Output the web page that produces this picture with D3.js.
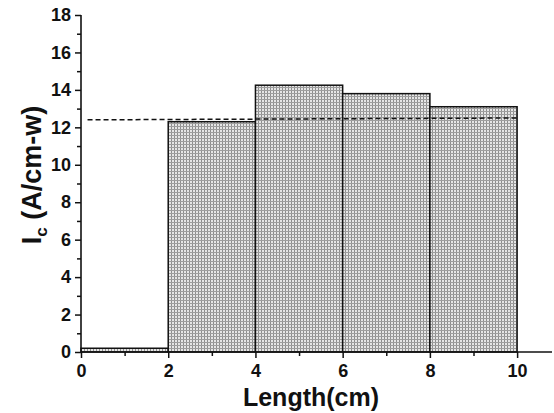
<!DOCTYPE html>
<html><head><meta charset="utf-8">
<script src="https://cdn.jsdelivr.net/npm/d3@7"></script>
<style>body{margin:0;background:#fff}svg{display:block}text{font-family:"Liberation Sans",Arial,sans-serif;font-weight:bold}</style>
</head><body><svg id="c" width="554" height="413"></svg>
<script>
const binStarts = [0, 2, 4, 6, 8];
const binEnds = [2, 4, 6, 8, 10];
const icValues = [0.2, 12.3, 14.25, 13.8, 13.1];
const avgLineX = [0.15, 10];
const avgLineY = [12.4, 12.5];
const xTicks = [0, 2, 4, 6, 8, 10];
const yTicks = [0, 2, 4, 6, 8, 10, 12, 14, 16, 18];

const svg = d3.select("#c");
const x = d3.scaleLinear().domain([0, 10.8]).range([81, 552]);
const y = d3.scaleLinear().domain([0, 18]).range([352, 15]);

const defs = svg.append("defs");
const pat = defs.append("pattern").attr("id","dots").attr("patternUnits","userSpaceOnUse").attr("width",3).attr("height",3);
pat.append("rect").attr("width",3).attr("height",3).attr("fill","#e6e6e6");
pat.append("rect").attr("width",1).attr("height",3).attr("fill","#8e8e8e");
pat.append("rect").attr("width",3).attr("height",1).attr("fill","#9e9e9e");

const bars = binStarts.map((s,i)=>({s, e: binEnds[i], v: icValues[i]}));
svg.append("g").selectAll("rect").data(bars).join("rect")
  .attr("x", d=>x(d.s)).attr("width", d=>x(d.e)-x(d.s))
  .attr("y", d=>y(d.v)).attr("height", d=>y(0)-y(d.v))
  .attr("fill","url(#dots)").attr("stroke","#111").attr("stroke-width",1.5);

svg.append("line")
  .attr("x1", x(avgLineX[0])).attr("x2", x(avgLineX[1]))
  .attr("y1", y(avgLineY[0])).attr("y2", y(avgLineY[1]))
  .attr("stroke","#111").attr("stroke-width",1.5).attr("stroke-dasharray","5,3");

// axes
const xMinor = d3.range(1, 11, 2);
const yMinor = d3.range(1, 18, 2);
const xa = svg.append("g").attr("transform",`translate(0,${y(0)})`)
  .call(d3.axisBottom(x).tickValues(xTicks).tickSize(6).tickPadding(6).tickFormat(d3.format("d")));
const xm = svg.append("g").attr("transform",`translate(0,${y(0)})`)
  .call(d3.axisBottom(x).tickValues(xMinor).tickSize(4).tickFormat(""));
xm.select(".domain").remove();
const ya = svg.append("g").attr("transform",`translate(${x(0)},0)`)
  .call(d3.axisLeft(y).tickValues(yTicks).tickSize(6).tickPadding(4).tickFormat(d3.format("d")));
const ym = svg.append("g").attr("transform",`translate(${x(0)},0)`)
  .call(d3.axisLeft(y).tickValues(yMinor).tickSize(4).tickFormat(""));
ym.select(".domain").remove();
[xa, ya].forEach(g=>{
  g.select(".domain").attr("stroke","#111").attr("stroke-width",1.6);
  g.selectAll("text").attr("font-size",18).attr("fill","#111").style("font-family","'Liberation Sans',Arial,sans-serif").style("font-weight","bold");
});
xa.select(".domain").attr("d", `M${x(0)},0H552`);
ya.select(".domain").attr("d", `M0,${y(0)}V${y(18)}`);
svg.selectAll(".tick line").attr("stroke","#111").attr("stroke-width",1.5);

svg.append("text").attr("x", 311).attr("y", 406).attr("text-anchor","middle")
  .attr("font-size",25).attr("fill","#111").text("Length(cm)");

const yt = svg.append("text").attr("transform","translate(41,175) rotate(-90)")
  .attr("text-anchor","middle").attr("font-size",27).attr("fill","#111");
yt.append("tspan").text("I");
yt.append("tspan").attr("font-size",17).attr("dy",6).text("c");
yt.append("tspan").attr("dy",-6).text(" (A/cm-w)");
</script></body></html>
